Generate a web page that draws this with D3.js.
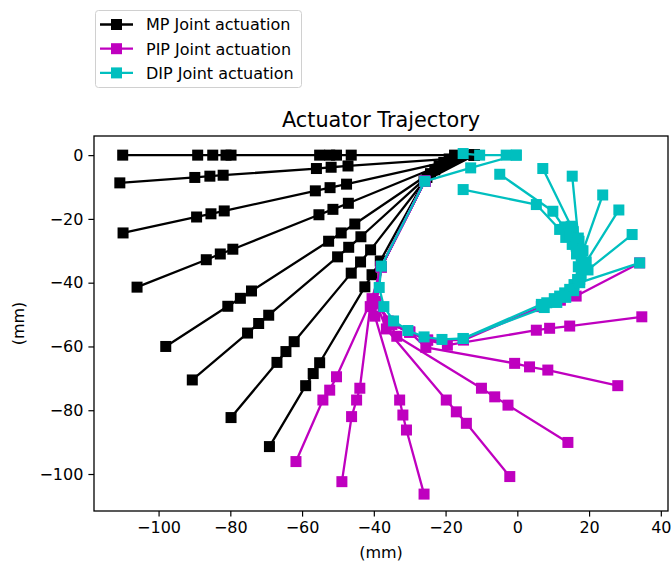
<!DOCTYPE html>
<html>
<head>
<meta charset="utf-8">
<script src="https://cdnjs.cloudflare.com/ajax/libs/d3/7.8.5/d3.min.js"></script>
<style>
  body { margin: 0; background: #fff; }
  text { font-family: "DejaVu Sans", sans-serif; }
</style>
</head>
<body>
<script>
// legend / series names
var seriesNames = ["MP Joint actuation", "PIP Joint actuation", "DIP Joint actuation"];
var xTicks = [-100, -80, -60, -40, -20, 0, 20, 40];
var yTicks = [0, -20, -40, -60, -80, -100];

// MP joint actuation: tip, DIP markers, PIP markers, MP, base  (mm)
var mpLines = [
  [[-110,0],[-89.1,0],[-84.9,0],[-81.2,0],[-79.8,0],[-55.1,0],[-52.3,0],[-50.4,0],[-46.3,0],[-17.5,0],[-12,0]],
  [[-110.8,-8.7],[-89.9,-7.0],[-85.7,-6.6],[-82.0,-6.3],[-56.0,-4.2],[-51.9,-3.8],[-47.2,-3.4],[-19,-1.2],[-12,0]],
  [[-109.9,-24.4],[-89.4,-19.4],[-85.4,-18.4],[-81.7,-17.5],[-56.3,-11.2],[-52.2,-10.2],[-47.6,-9.1],[-20.5,-2.3],[-12,0]],
  [[-106,-41.4],[-86.7,-32.8],[-82.8,-31.0],[-79.3,-29.5],[-55.3,-18.7],[-51.4,-17.0],[-47.1,-15.1],[-21.8,-3.4],[-12,0]],
  [[-98,-60],[-80.7,-47.4],[-77.2,-44.9],[-74.1,-42.6],[-52.6,-27.0],[-49.1,-24.4],[-45.3,-21.6],[-23,-4.6],[-12,0]],
  [[-90.6,-70.5],[-75.2,-55.8],[-72.1,-52.8],[-69.3,-50.2],[-50.1,-31.9],[-47.0,-28.9],[-43.6,-25.6],[-24.2,-5.8],[-12,0]],
  [[-79.8,-82.3],[-67.0,-65.0],[-64.5,-61.6],[-62.2,-58.5],[-46.3,-37.0],[-43.7,-33.5],[-40.9,-29.7],[-25.2,-7],[-12,0]],
  [[-69.1,-91.4],[-59.0,-72.3],[-56.9,-68.5],[-55.1,-65.1],[-42.5,-41.3],[-40.5,-37.5],[-38.2,-33.2],[-26,-8.2],[-12,0]]
];

// PIP joint actuation: MP, along proximal, PIP, DIP markers, tip
var pipLines = [
  [[-25.8,-8.2],[-37.9,-35],[-40.5,-45],[-50.4,-69.5],[-52.3,-73.7],[-54.2,-76.8],[-61.7,-96.1]],
  [[-25.8,-8.2],[-37.9,-35],[-41,-47.5],[-43.9,-73.1],[-44.8,-76.8],[-46.2,-82],[-48.9,-102.4]],
  [[-25.8,-8.2],[-37.9,-35],[-39.7,-50.5],[-32.8,-76.8],[-31.9,-81.5],[-30.9,-86.2],[-26,-106.3]],
  [[-25.8,-8.2],[-37.9,-35],[-39.5,-46],[-36.5,-54.5],[-19.8,-76.8],[-17,-80.5],[-14.2,-84.1],[-2.1,-100.8]],
  [[-25.8,-8.2],[-37.9,-35],[-39.5,-46],[-36,-52],[-33.6,-56.8],[-10,-73.1],[-6.3,-75.8],[-2.6,-78.4],[14.1,-90.1]],
  [[-25.8,-8.2],[-37.9,-35],[-39.5,-46],[-35,-53],[-30,-55.5],[-25.5,-60.3],[-0.75,-65.3],[3.4,-66.4],[8.5,-67.4],[28,-72.3]],
  [[-25.8,-8.2],[-37.9,-35],[-39.5,-46],[-35,-53],[-30,-55.5],[-25,-58],[-19.5,-59.6],[5.3,-54.9],[9,-54.3],[14.6,-53.6],[34.7,-50.7]],
  [[-25.8,-8.2],[-37.9,-35],[-39.5,-46],[-35,-53],[-30,-55.5],[-25,-58],[-15,-58],[6.7,-47.5],[12,-45.5],[16.4,-44.2],[34.1,-33.8]]
];

// DIP joint actuation: common arm round the loop, then distal rays
var dipLines = [
  [[-15.1,0.5],[-10.5,0],[-3.1,0],[-0.3,0]],
  [[-0.3,0],[-13,-4],[-25.8,-8.2],[-37.9,-34.8],[-38.5,-41.5],[-37.2,-47.5],[-34.5,-52],[-30.5,-55],[-26,-57],[-21,-57.8],[-15.1,-57.5],[6.7,-46.8],[8.2,-46.3],[10.3,-45],[13.2,-43.2],[15.8,-40.6],[17.8,-37.5],[18.4,-34],[18,-30],[17.2,-27],[15.6,-24],[13.2,-22.5]],
  [[-15.1,-57.5],[7.5,-47.8],[11,-46.2],[13.5,-44.6],[15.7,-42.5],[16.8,-39],[17,-35],[16.5,-31],[15.3,-28],[13.5,-25.8]],
  [[11.8,-23.3],[5.3,-15.5],[-15.1,-10.8]],
  [[14.6,-25.4],[9.9,-17.6],[-4.9,-6]],
  [[16.4,-28.5],[15,-22.3],[7.1,-4.2]],
  [[17.8,-31.7],[17,-26],[15.3,-6.6]],
  [[18.3,-35.8],[18.3,-30],[23.8,-12.5]],
  [[17.4,-39],[19.2,-33.5],[28.3,-17.2]],
  [[14.6,-42.1],[19.7,-36],[32,-24.9]],
  [[11.8,-44.2],[17.4,-40],[34.1,-33.8]]
];

var w = 671;
var h = 565;
var padL = 94, padR = 668, padT = 136, padB = 511;
var colors = ["#000000", "#bf00bf", "#00bfbf"];
var ms = 11;

var svg = d3.select("body")
            .append("svg")
            .attr("width", w)
            .attr("height", h);

var xScale = d3.scaleLinear()
               .domain([-118, 42])
               .range([padL, padR]);

var yScale = d3.scaleLinear()
               .domain([-111.6, 6])
               .range([padB, padT]);

var line = d3.line()
             .x(function(d){ return xScale(d[0]); })
             .y(function(d){ return yScale(d[1]); });

var plot = svg.append("g");

var drawSeries = function(lines, color) {
  lines.forEach(function(pts) {
    plot.append("path")
        .attr("d", line(pts))
        .attr("fill", "none")
        .attr("stroke", color)
        .attr("stroke-width", 2.3)
        .attr("stroke-linejoin", "round");
    plot.selectAll(null)
        .data(pts)
        .enter()
        .append("rect")
          .attr("x", function(d){ return xScale(d[0]) - ms/2; })
          .attr("y", function(d){ return yScale(d[1]) - ms/2; })
          .attr("width", ms)
          .attr("height", ms)
          .attr("fill", color);
  });
};

drawSeries(mpLines, colors[0]);
drawSeries(pipLines, colors[1]);
drawSeries(dipLines, colors[2]);

// axes
var xAxis = d3.axisBottom(xScale).tickValues(xTicks).tickSize(5.6).tickPadding(5);
var yAxis = d3.axisLeft(yScale).tickValues(yTicks).tickSize(5.6).tickPadding(5);

svg.append("g")
   .attr("class", "axis")
   .attr("transform", "translate(0," + padB + ")")
   .call(xAxis);

svg.append("g")
   .attr("class", "axis")
   .attr("transform", "translate(" + padL + ",0)")
   .call(yAxis);

svg.selectAll(".axis .domain").remove();
svg.selectAll(".axis text")
   .attr("font-family", "DejaVu Sans")
   .attr("font-size", 16)
   .attr("fill", "#000");
svg.selectAll(".axis line").attr("stroke", "#000").attr("stroke-width", 1.2);

svg.append("rect")
   .attr("x", padL)
   .attr("y", padT)
   .attr("width", padR - padL)
   .attr("height", padB - padT)
   .attr("fill", "none")
   .attr("stroke", "#000")
   .attr("stroke-width", 1.3);

// title and labels
svg.append("text")
   .attr("x", (padL + padR) / 2)
   .attr("y", 127)
   .attr("text-anchor", "middle")
   .attr("font-size", 20.8)
   .text("Actuator Trajectory");

svg.append("text")
   .attr("x", (padL + padR) / 2)
   .attr("y", 558)
   .attr("text-anchor", "middle")
   .attr("font-size", 16)
   .text("(mm)");

svg.append("text")
   .attr("transform", "translate(24," + ((padT + padB) / 2) + ") rotate(-90)")
   .attr("text-anchor", "middle")
   .attr("font-size", 16)
   .text("(mm)");

// legend
var legend = svg.append("g");
legend.append("rect")
      .attr("x", 95.5)
      .attr("y", 10.5)
      .attr("width", 206)
      .attr("height", 77)
      .attr("rx", 3)
      .attr("fill", "#fff")
      .attr("stroke", "#d0d0d0");

seriesNames.forEach(function(name, i) {
  var yy = 24.5 + i * 24.2;
  legend.append("line")
        .attr("x1", 100).attr("x2", 133)
        .attr("y1", yy).attr("y2", yy)
        .attr("stroke", colors[i])
        .attr("stroke-width", 2.3);
  legend.append("rect")
        .attr("x", 116.5 - ms/2).attr("y", yy - ms/2)
        .attr("width", ms).attr("height", ms)
        .attr("fill", colors[i]);
  legend.append("text")
        .attr("x", 146)
        .attr("y", yy + 5.8)
        .attr("font-size", 16)
        .text(name);
});
</script>
</body>
</html>
